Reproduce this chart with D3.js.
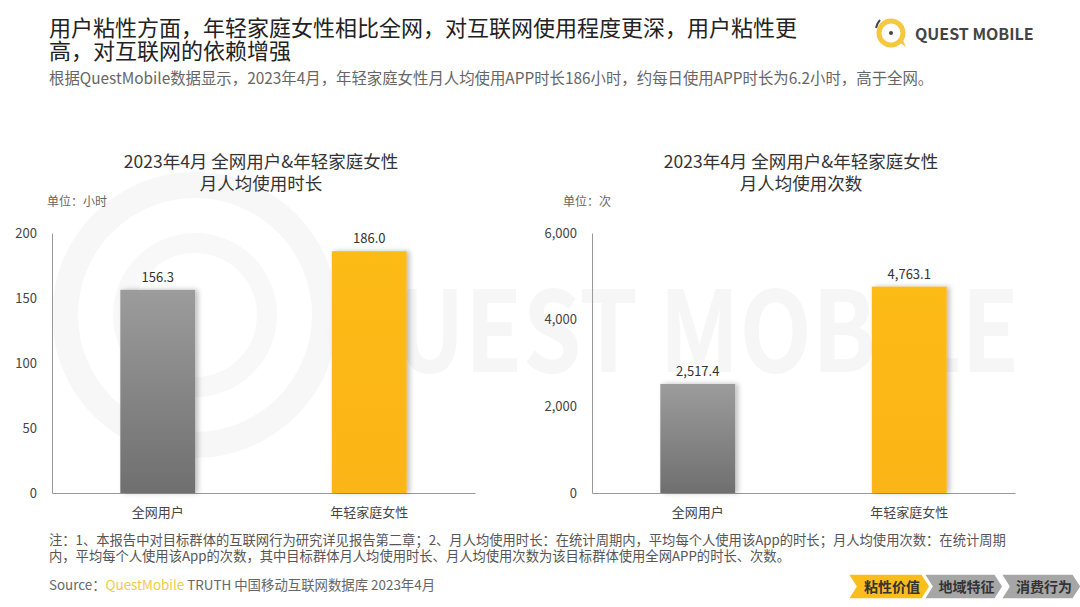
<!DOCTYPE html>
<html>
<head>
<meta charset="utf-8">
<script src="https://cdn.jsdelivr.net/npm/d3@7"></script>
<style>
  body { margin: 0; background: #fff; }
  svg text { font-family: "Noto Sans CJK SC", "Liberation Sans", sans-serif; }
</style>
</head>
<body>
<script>
// chart data
var categories = ["全网用户", "年轻家庭女性"];
var durationValues = [156.3, 186.0];
var countValues = [2517.4, 4763.1];
var durationTicks = [0, 50, 100, 150, 200];
var countTicks = [0, 2000, 4000, 6000];
var breadcrumbs = ["粘性价值", "地域特征", "消费行为"];

var W = 1080, H = 607;
var svg = d3.select("body").append("svg")
    .attr("width", W)
    .attr("height", H);

var defs = svg.append("defs");
var gGray = defs.append("linearGradient").attr("id", "gray").attr("x1", 0).attr("y1", 0).attr("x2", 0).attr("y2", 1);
gGray.append("stop").attr("offset", "0%").attr("stop-color", "#9c9c9c");
gGray.append("stop").attr("offset", "100%").attr("stop-color", "#6f6f6f");
var gYel = defs.append("linearGradient").attr("id", "yel").attr("x1", 0).attr("y1", 0).attr("x2", 0).attr("y2", 1);
gYel.append("stop").attr("offset", "0%").attr("stop-color", "#fdbb18");
gYel.append("stop").attr("offset", "100%").attr("stop-color", "#fbb516");
defs.append("filter").attr("id", "shadow").attr("x", "-20%").attr("y", "-10%").attr("width", "150%").attr("height", "120%")
    .append("feDropShadow").attr("dx", 3).attr("dy", 0).attr("stdDeviation", 2.5)
    .attr("flood-color", "#000").attr("flood-opacity", 0.25);

// watermark (very faint)
var wm = svg.append("g").attr("class", "watermark");
wm.append("circle").attr("cx", 195).attr("cy", 315).attr("r", 130)
    .attr("fill", "none").attr("stroke", "#f7f7f7").attr("stroke-width", 26);
wm.append("circle").attr("cx", 195).attr("cy", 315).attr("r", 72)
    .attr("fill", "none").attr("stroke", "#f8f8f8").attr("stroke-width", 20);
wm.append("text").attr("transform", "translate(322,372) scale(0.84,1)")
    .attr("font-size", 112).attr("font-weight", "bold").attr("fill", "#f6f6f6")
    .attr("font-family", "Liberation Sans")
    .text("QUEST MOBILE");

// heading
svg.append("text").attr("x", 49).attr("y", 36)
    .attr("font-size", 22).attr("fill", "#222")
    .text("用户粘性方面，年轻家庭女性相比全网，对互联网使用程度更深，用户粘性更");
svg.append("text").attr("x", 49).attr("y", 59)
    .attr("font-size", 22).attr("fill", "#222")
    .text("高，对互联网的依赖增强");
svg.append("text").attr("x", 49).attr("y", 84)
    .attr("font-size", 15.4).attr("fill", "#666")
    .text("根据QuestMobile数据显示，2023年4月，年轻家庭女性月人均使用APP时长186小时，约每日使用APP时长为6.2小时，高于全网。");

// logo
var logo = svg.append("g");
logo.append("circle").attr("cx", 891).attr("cy", 33).attr("r", 12)
    .attr("fill", "none").attr("stroke", "#f5c842").attr("stroke-width", 5);
logo.append("path").attr("d", "M899,42 L906,47 L902,38 Z").attr("fill", "#f5c842");
logo.append("circle").attr("cx", 891).attr("cy", 33).attr("r", 2).attr("fill", "#444");
logo.append("path").attr("d", "M876,28 A16,16 0 0 1 880,20").attr("fill", "none").attr("stroke", "#444").attr("stroke-width", 2);
logo.append("text").attr("x", 915).attr("y", 40)
    .attr("font-size", 16).attr("font-weight", "bold").attr("fill", "#444")
    .attr("font-family", "Liberation Sans")
    .text("QUEST MOBILE");

function drawPanel(left, right, title2, unit, values, ticks, fmt, unitX) {
    var top = 233, bottom = 493;
    var x = d3.scaleBand().domain(categories).range([left, right])
        .paddingInner(0.646).paddingOuter(0.323);
    var y = d3.scaleLinear().domain([ticks[0], ticks[ticks.length - 1]]).range([bottom, top]);
    var cx = left + 209;

    var g = svg.append("g");
    g.append("text").attr("x", cx).attr("y", 168).attr("text-anchor", "middle")
        .attr("font-size", 17.5).attr("fill", "#333").text("2023年4月 全网用户&年轻家庭女性");
    g.append("text").attr("x", cx).attr("y", 190).attr("text-anchor", "middle")
        .attr("font-size", 17.5).attr("fill", "#333").text(title2);
    g.append("text").attr("x", unitX).attr("y", 206)
        .attr("font-size", 12).attr("fill", "#666").text(unit);

    var yAxis = g.append("g").attr("transform", "translate(" + left + ",0)")
        .call(d3.axisLeft(y).tickValues(ticks).tickSize(0).tickPadding(15).tickFormat(fmt));
    yAxis.select(".domain").attr("stroke", "#999");
    yAxis.selectAll("text").attr("font-size", 13).attr("fill", "#444")
        .attr("font-family", "Liberation Sans");

    var xAxis = g.append("g").attr("transform", "translate(0," + bottom + ")")
        .call(d3.axisBottom(x).tickSize(0).tickPadding(15));
    xAxis.select(".domain").attr("stroke", "#999");
    xAxis.selectAll("text").attr("font-size", 13).attr("fill", "#444");

    g.selectAll(".bar").data(values).enter().append("rect")
        .attr("class", "bar")
        .attr("x", function (d, i) { return x(categories[i]); })
        .attr("y", function (d) { return y(d); })
        .attr("width", x.bandwidth())
        .attr("height", function (d) { return bottom - y(d); })
        .attr("fill", function (d, i) { return i === 0 ? "url(#gray)" : "url(#yel)"; })
        .attr("filter", "url(#shadow)");

    g.selectAll(".val").data(values).enter().append("text")
        .attr("x", function (d, i) { return x(categories[i]) + x.bandwidth() / 2; })
        .attr("y", function (d) { return y(d) - 8; })
        .attr("text-anchor", "middle").attr("font-size", 13).attr("fill", "#333")
        .attr("font-family", "Liberation Sans")
        .text(function (d) { return d3.format(",.1f")(d); });
}

drawPanel(52, 475, "月人均使用时长", "单位：小时", durationValues, durationTicks, d3.format("d"), 47);
drawPanel(592, 1015, "月人均使用次数", "单位：次", countValues, countTicks, d3.format(","), 563);

// notes
svg.append("text").attr("x", 49).attr("y", 545).attr("font-size", 13.3).attr("fill", "#555")
    .text("注：1、本报告中对目标群体的互联网行为研究详见报告第二章；2、月人均使用时长：在统计周期内，平均每个人使用该App的时长；月人均使用次数：在统计周期");
svg.append("text").attr("x", 49).attr("y", 561).attr("font-size", 13.3).attr("fill", "#555")
    .text("内，平均每个人使用该App的次数，其中目标群体月人均使用时长、月人均使用次数为该目标群体使用全网APP的时长、次数。");
var src = svg.append("text").attr("x", 49).attr("y", 590).attr("font-size", 13.4).attr("fill", "#666");
src.append("tspan").text("Source：");
src.append("tspan").attr("fill", "#f2c94c").text("QuestMobile");
src.append("tspan").text(" TRUTH 中国移动互联网数据库 2023年4月");

// breadcrumb chevrons
var crumbX = [848, 924, 1001];
var crumbW = [82, 79, 80];
var cTop = 574, cBot = 599, tip = 8;
breadcrumbs.forEach(function (t, i) {
    var x0 = crumbX[i], x1 = x0 + crumbW[i];
    var mid = (cTop + cBot) / 2;
    var pts = [[x0, cTop], [x1 - tip, cTop], [x1, mid], [x1 - tip, cBot], [x0, cBot], [x0 + tip, mid]];
    svg.append("path").attr("d", d3.line()(pts) + "Z")
        .attr("fill", i === 0 ? "#f9bd1c" : "#a6a6a6")
        .attr("stroke", "#fff").attr("stroke-width", 1.5);
    svg.append("text").attr("x", (x0 + x1) / 2 + 3).attr("y", mid + 5)
        .attr("text-anchor", "middle").attr("font-size", 14).attr("font-weight", "bold")
        .attr("fill", "#333").text(t);
});
</script>
</body>
</html>
